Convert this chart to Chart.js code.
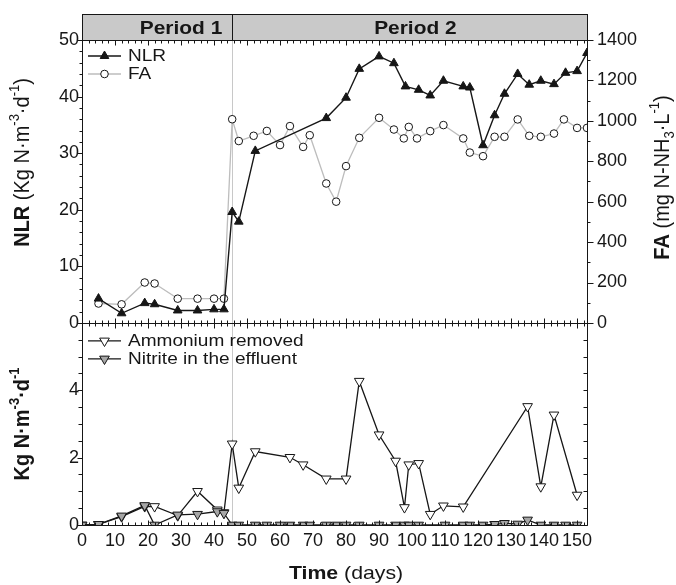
<!DOCTYPE html>
<html>
<head>
<meta charset="utf-8">
<script src="https://cdn.jsdelivr.net/npm/chart.js@4.4.0/dist/chart.umd.min.js"></script>
<style>
  html, body { margin: 0; padding: 0; background: #fff; }
</style>
</head>
<body>
<canvas id="grafica" width="676" height="585"></canvas>
<script>
/* Datos: NLR / FA (panel superior) y
   amonio eliminado / nitrito en el efluente (panel inferior). */

// NLR (Kg N·m-3·d-1)
const diasNLR = [5, 12, 19, 22, 29, 35, 40, 43, 45.5, 47.5, 52.5, 74, 80, 84, 90, 94.5, 98, 102, 105.5,
  109.5, 115.5, 117.5, 121.5, 125, 128, 132, 135.5, 139, 143, 146.5, 150, 153];
const valoresNLR = [4.3, 1.7, 3.5, 3.3, 2.2, 2.2, 2.4, 2.4, 19.6, 17.9, 30.4, 36.2, 39.8, 44.9, 47.1, 45.9, 41.8, 41.2, 40.2,
  42.8, 41.8, 41.6, 31.4, 36.7, 40.5, 44.0, 42.1, 42.8, 42.2, 44.2, 44.5, 47.7];

// FA (mg N-NH3·L-1)
const diasFA = [5, 12, 19, 22, 29, 35, 40, 43, 45.5, 47.5, 52, 56, 60, 63, 67, 69, 74, 77, 80, 84, 90, 94.5,
  97.5, 99, 101.5, 105.5, 109.5, 115.5, 117.5, 121.5, 125, 128, 132, 135.5, 139, 143, 146, 150, 153];
const valoresFA = [96, 92, 200, 195, 120, 120, 120, 120, 1008, 900, 926, 950, 880, 974, 871, 929, 690, 600, 776, 916, 1015, 957,
  913, 970, 913, 949, 979, 913, 843, 825, 921, 921, 1007, 926, 921, 937, 1007, 965, 965];

// Amonio eliminado (Kg N·m-3·d-1)
const diasAmonio = [0, 5, 12, 19, 22, 29, 35, 41, 43, 45.5, 47.5, 52.5, 63, 67, 74, 80, 84, 90, 95, 97.7,
  99, 102, 105.5, 109.5, 115.5, 135, 139, 143, 150];
const valoresAmonio = [0, 0.02, 0.25, 0.55, 0.55, 0.28, 1.0, 0.45, 0.37, 2.41, 1.1, 2.18, 2.01, 1.79, 1.37, 1.37, 4.27, 2.68, 1.9, 0.52,
  1.79, 1.83, 0.32, 0.57, 0.54, 3.52, 1.14, 3.27, 0.89];

// Nitrito en el efluente (Kg N·m-3·d-1)
const diasNitrito = [0, 5, 12, 19, 22, 29, 35, 41, 43, 45.5, 47.5, 52.5, 56, 60, 63, 67, 69, 74, 77, 80, 84, 90, 95,
  97.7, 99, 102, 110, 115.5, 117.5, 121.5, 125, 128, 132, 135, 139, 143, 146.5, 150];
const valoresNitrito = [0, 0.02, 0.27, 0.58, 0, 0.3, 0.32, 0.4, 0.35, 0, 0, 0, 0, 0, 0, 0, 0, 0, 0, 0, 0, 0, 0,
  0, 0, 0, 0, 0, 0, 0, 0.02, 0.05, 0.03, 0.15, 0, 0, 0, 0];

// Periodos de operación
const diaCambio = 45.5;
const periodos = ['Period 1', 'Period 2'];
const diaEtiquetaPeriodo = [30, 101];

// Textos de los ejes (b = negrita, sup = superíndice, sub = subíndice)
const tituloNLR = [{ t: 'NLR', b: true }, { t: ' (Kg N·m' }, { t: '-3', sup: true }, { t: '·d' }, { t: '-1', sup: true }, { t: ')' }];
const tituloFA = [{ t: 'FA', b: true }, { t: ' (mg N-NH' }, { t: '3', sub: true }, { t: '·L' }, { t: '-1', sup: true }, { t: ')' }];
const tituloKg = [{ t: 'Kg N·m', b: true }, { t: '-3', b: true, sup: true }, { t: '·d', b: true }, { t: '-1', b: true, sup: true }];
const tituloTiempo = [{ t: 'Time', b: true }, { t: ' (days)' }];

const FAMILIA = '"Liberation Sans", Arial, Helvetica, sans-serif';
const NEGRO = '#161616';

function pares(xs, ys) {
  return xs.map((x, i) => ({ x: x, y: ys[i] }));
}

/**
 * Escribe texto con partes en negrita / superíndice / subíndice.
 * El original está algo ensanchado en horizontal, de ahí "estirar".
 */
function textoRico(ctx, partes, x, y, tam, opciones) {
  const { angulo = 0, alinear = 'center', estirar = 1 } = opciones || {};
  ctx.save();
  ctx.translate(x, y);
  ctx.rotate(angulo);
  if (angulo) ctx.scale(1, estirar); else ctx.scale(estirar, 1);
  ctx.textBaseline = 'middle';
  ctx.textAlign = 'left';
  ctx.fillStyle = NEGRO;
  const fuenteDe = p => `${p.b ? 'bold ' : ''}${p.sup || p.sub ? Math.round(tam * 0.65) : tam}px ${FAMILIA}`;
  let total = 0;
  for (const p of partes) {
    ctx.font = fuenteDe(p);
    total += ctx.measureText(p.t).width;
  }
  let cx = alinear === 'center' ? -total / 2 : 0;
  for (const p of partes) {
    ctx.font = fuenteDe(p);
    const dy = p.sup ? -tam * 0.36 : p.sub ? tam * 0.32 : 0;
    ctx.fillText(p.t, cx, dy);
    cx += ctx.measureText(p.t).width;
  }
  ctx.restore();
}

/**
 * Marcas de un eje vertical; signo = -1 hacia la izquierda, 1 hacia la derecha.
 */
function marcasY(ctx, escala, xEje, signo, paso, cadaMayor, largoMayor, largoMenor) {
  const n = Math.round((escala.max - escala.min) / paso);
  for (let k = 0; k <= n; k++) {
    const v = escala.min + k * paso;
    const py = Math.round(escala.getPixelForValue(v)) + 0.5;
    const largo = k % cadaMayor === 0 ? largoMayor : largoMenor;
    ctx.moveTo(xEje, py);
    ctx.lineTo(xEje + signo * largo, py);
  }
}

function itemLeyenda(ctx, ds, x0, y) {
  ctx.save();
  ctx.strokeStyle = ds.borderColor;
  ctx.lineWidth = ds.borderWidth;
  ctx.beginPath();
  ctx.moveTo(x0, y);
  ctx.lineTo(x0 + 33, y);
  ctx.stroke();
  ctx.fillStyle = ds.pointBackgroundColor;
  ctx.strokeStyle = ds.pointBorderColor;
  ctx.lineWidth = ds.pointBorderWidth;
  Chart.helpers.drawPoint(ctx, {
    pointStyle: ds.pointStyle,
    rotation: ds.pointRotation || 0,
    radius: ds.pointRadius,
    borderWidth: ds.pointBorderWidth
  }, x0 + 16.5, y);
  ctx.restore();
  textoRico(ctx, [{ t: ds.label }], x0 + 40, y, 17, { alinear: 'left', estirar: 1.12 });
}

const marcoPlugin = {
  id: 'marco',
  beforeDatasetsDraw(chart) {
    const { ctx, chartArea: ca, scales } = chart;
    const xDiv = Math.round(scales.x.getPixelForValue(diaCambio)) + 0.5;
    ctx.save();
    ctx.strokeStyle = '#c8c8c8';
    ctx.lineWidth = 1;
    ctx.beginPath();
    ctx.moveTo(xDiv, ca.top);
    ctx.lineTo(xDiv, ca.bottom);
    ctx.stroke();
    ctx.restore();
  },
  afterDraw(chart) {
    const { ctx, chartArea: ca, scales } = chart;
    const x = scales.x;
    const izq = Math.round(ca.left) + 0.5;
    const der = Math.round(ca.right) + 0.5;
    const arriba = Math.round(ca.top) + 0.5;
    const abajo = Math.round(ca.bottom) + 0.5;
    const medio = Math.round(scales.yN.bottom) + 0.5;
    const xDiv = Math.round(x.getPixelForValue(diaCambio)) + 0.5;

    ctx.save();
    // banda de periodos
    const altoBanda = 26;
    ctx.fillStyle = '#c9c9c9';
    ctx.fillRect(izq, arriba - altoBanda, der - izq, altoBanda);
    ctx.strokeStyle = NEGRO;
    ctx.lineWidth = 1;
    ctx.strokeRect(izq, arriba - altoBanda, der - izq, altoBanda);
    ctx.beginPath();
    ctx.moveTo(xDiv, arriba - altoBanda);
    ctx.lineTo(xDiv, arriba);
    ctx.stroke();

    // marco de los dos paneles
    ctx.beginPath();
    ctx.rect(izq, arriba, der - izq, abajo - arriba);
    ctx.moveTo(izq, medio);
    ctx.lineTo(der, medio);

    // marcas del eje X (arriba hacia dentro, en medio cruzadas, abajo hacia dentro)
    for (let d = 0; d <= x.max; d += 2) {
      const px = Math.round(x.getPixelForValue(d)) + 0.5;
      const largo = d % 10 === 0 ? 5 : 3;
      ctx.moveTo(px, arriba);
      ctx.lineTo(px, arriba + largo);
      ctx.moveTo(px, medio - largo);
      ctx.lineTo(px, medio + largo);
      ctx.moveTo(px, abajo);
      ctx.lineTo(px, abajo - largo);
    }

    // marcas de los ejes Y
    marcasY(ctx, scales.yN, izq, -1, 2, 5, 5, 3);
    marcasY(ctx, scales.yK, izq, -1, 0.5, 4, 5, 4);
    marcasY(ctx, scales.yFA, der, 1, 100, 2, 6, 3);
    marcasY(ctx, scales.yR, der, -1, 0.5, 4, 4, 4);
    ctx.stroke();
    ctx.restore();

    // etiquetas de periodo
    periodos.forEach((p, i) => {
      textoRico(ctx, [{ t: p, b: true }], x.getPixelForValue(diaEtiquetaPeriodo[i]), arriba - altoBanda / 2 + 1, 19, { estirar: 1.1 });
    });

    // títulos de ejes
    textoRico(ctx, tituloNLR, 23, (scales.yN.top + scales.yN.bottom) / 2 - 19, 20, { angulo: -Math.PI / 2, estirar: 1.12 });
    textoRico(ctx, tituloKg, 23, (scales.yK.top + scales.yK.bottom) / 2, 20, { angulo: -Math.PI / 2, estirar: 1.12 });
    textoRico(ctx, tituloFA, 663, (scales.yFA.top + scales.yFA.bottom) / 2 - 4, 20, { angulo: -Math.PI / 2, estirar: 1.12 });
    textoRico(ctx, tituloTiempo, x.getPixelForValue(80), 574, 19, { estirar: 1.12 });

    // leyendas dentro de cada panel
    const ds = chart.data.datasets;
    itemLeyenda(ctx, ds[0], ca.left + 6, ca.top + 16);
    itemLeyenda(ctx, ds[1], ca.left + 6, ca.top + 34);
    itemLeyenda(ctx, ds[2], ca.left + 6, scales.yK.top + 18);
    itemLeyenda(ctx, ds[3], ca.left + 6, scales.yK.top + 36);
  }
};

const fuenteTicks = { family: FAMILIA, size: 18 };

new Chart(document.getElementById('grafica'), {
  type: 'line',
  data: {
    datasets: [
      {
        label: 'NLR',
        yAxisID: 'yN',
        data: pares(diasNLR, valoresNLR),
        borderColor: NEGRO,
        borderWidth: 1.4,
        pointStyle: 'triangle',
        pointRadius: 5,
        pointBackgroundColor: NEGRO,
        pointBorderColor: NEGRO,
        pointBorderWidth: 1,
        order: 1
      },
      {
        label: 'FA',
        yAxisID: 'yFA',
        data: pares(diasFA, valoresFA),
        borderColor: '#bdbdbd',
        borderWidth: 1.3,
        pointStyle: 'circle',
        pointRadius: 3.8,
        pointBackgroundColor: '#ffffff',
        pointBorderColor: NEGRO,
        pointBorderWidth: 1,
        order: 2
      },
      {
        label: 'Ammonium removed',
        yAxisID: 'yK',
        data: pares(diasAmonio, valoresAmonio),
        borderColor: NEGRO,
        borderWidth: 1.3,
        pointStyle: 'triangle',
        pointRotation: 180,
        pointRadius: 5.6,
        pointBackgroundColor: '#ffffff',
        pointBorderColor: NEGRO,
        pointBorderWidth: 1,
        order: 4
      },
      {
        label: 'Nitrite in the effluent',
        yAxisID: 'yK',
        data: pares(diasNitrito, valoresNitrito),
        borderColor: NEGRO,
        borderWidth: 1.3,
        pointStyle: 'triangle',
        pointRotation: 180,
        pointRadius: 5.6,
        pointBackgroundColor: '#a6a6a6',
        pointBorderColor: NEGRO,
        pointBorderWidth: 1,
        order: 3
      }
    ]
  },
  options: {
    responsive: false,
    animation: false,
    events: [],
    layout: { padding: { top: 40, left: 0, right: 0, bottom: 0 } },
    plugins: {
      legend: { display: false },
      tooltip: { enabled: false }
    },
    scales: {
      x: {
        type: 'linear',
        min: 0,
        max: 153,
        grid: { display: false, drawTicks: false },
        border: { display: false },
        ticks: { stepSize: 10, includeBounds: false, autoSkip: false, maxRotation: 0, padding: 5, color: NEGRO, font: fuenteTicks },
        afterFit: (s) => { s.height = 60; }
      },
      // a la izquierda la pila se ordena al revés: el último definido queda arriba
      yK: {
        position: 'left',
        stack: 'izquierda',
        stackWeight: 1,
        min: 0,
        max: 6,
        grid: { display: false, drawTicks: false },
        border: { display: false },
        ticks: { stepSize: 2, padding: 3, color: NEGRO, font: fuenteTicks, callback: (v) => (v === 6 ? '' : v) },
        afterFit: (s) => { s.width = 82; }
      },
      yN: {
        position: 'left',
        stack: 'izquierda',
        stackWeight: 1.4,
        min: 0,
        max: 50,
        grid: { display: false, drawTicks: false },
        border: { display: false },
        ticks: { stepSize: 10, padding: 3, color: NEGRO, font: fuenteTicks },
        afterFit: (s) => { s.width = 82; }
      },
      yFA: {
        position: 'right',
        stack: 'derecha',
        stackWeight: 1.4,
        min: 0,
        max: 1400,
        grid: { display: false, drawTicks: false },
        border: { display: false },
        ticks: { stepSize: 200, autoSkip: false, padding: 10, color: NEGRO, font: fuenteTicks, callback: (v) => String(v) },
        afterFit: (s) => { s.width = 89; }
      },
      yR: {
        position: 'right',
        stack: 'derecha',
        stackWeight: 1,
        min: 0,
        max: 6,
        grid: { display: false, drawTicks: false },
        border: { display: false },
        ticks: { display: false },
        afterFit: (s) => { s.width = 89; }
      }
    }
  },
  plugins: [marcoPlugin]
});
</script>
</body>
</html>
